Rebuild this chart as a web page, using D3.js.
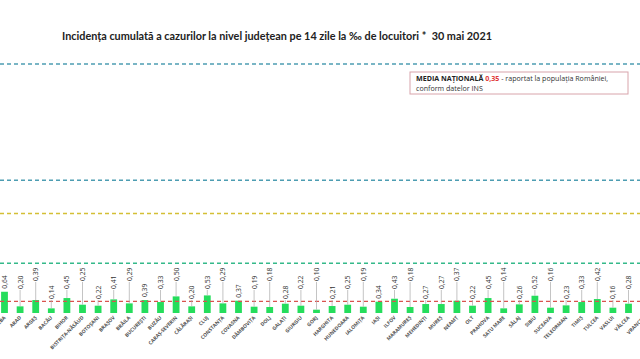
<!DOCTYPE html>
<html><head><meta charset="utf-8">
<script src="https://cdn.jsdelivr.net/npm/d3@7"></script>
<style>html,body{margin:0;padding:0;background:#fff;overflow:hidden}</style>
</head><body>
<svg id="c" width="640" height="359"></svg>
<script>
const counties = ["ALBA","ARAD","ARGEȘ","BACĂU","BIHOR","BISTRIȚA-NĂSĂUD","BOTOȘANI","BRAȘOV","BRĂILA","BUCUREȘTI","BUZĂU","CARAȘ-SEVERIN","CĂLĂRAȘI","CLUJ","CONSTANȚA","COVASNA","DÂMBOVIȚA","DOLJ","GALAȚI","GIURGIU","GORJ","HARGHITA","HUNEDOARA","IALOMIȚA","IAȘI","ILFOV","MARAMUREȘ","MEHEDINȚI","MUREȘ","NEAMȚ","OLT","PRAHOVA","SATU MARE","SĂLAJ","SIBIU","SUCEAVA","TELEORMAN","TIMIȘ","TULCEA","VASLUI","VÂLCEA","VRANCEA"];
const values = [0.64,0.20,0.39,0.14,0.45,0.25,0.22,0.41,0.29,0.39,0.33,0.50,0.20,0.53,0.29,0.37,0.19,0.18,0.28,0.22,0.10,0.21,0.25,0.19,0.34,0.43,0.18,0.27,0.27,0.37,0.22,0.45,0.14,0.26,0.52,0.16,0.23,0.33,0.42,0.16,0.28,0.31];
const nationalMean = 0.35;
const thresholds = [1.5, 3, 4, 7.5];
const thresholdColors = ["#35b98a","#d4bf35","#4d9db2","#4d9db2"];
const titleText = "Incidența cumulată a cazurilor la nivel județean pe 14 zile la ‰ de locuitori *  30 mai 2021";

const svg = d3.select("#c");
const x = d3.scalePoint().domain(counties).range([-3.3, 651.9]).padding(0.5);
const y = d3.scaleLinear().domain([0, 7.5]).range([313, 64]);
const fmt = v => d3.format(".2f")(v).replace(".", ",");

// title
svg.append("text").attr("x", 62).attr("y", 40)
  .attr("font-family", "Lato, 'Open Sans', sans-serif").attr("font-weight", "bold")
  .attr("font-size", 10.6).attr("fill", "#222").attr("xml:space", "preserve")
  .attr("textLength", 430).attr("lengthAdjust", "spacingAndGlyphs").text(titleText);

// threshold lines
thresholds.forEach((t, i) => {
  svg.append("line").attr("x1", 0).attr("x2", 640).attr("y1", y(t)).attr("y2", y(t))
    .attr("stroke", thresholdColors[i]).attr("stroke-width", 1.5).attr("stroke-dasharray", "4,3");
});

// bars
const bw = 6.8;
svg.selectAll("rect.bar").data(values).enter().append("rect").attr("class","bar")
  .attr("x", (d,i) => x(counties[i]) - bw/2).attr("width", bw)
  .attr("y", d => y(d)).attr("height", d => y(0) - y(d))
  .attr("fill", "#25dd5c");

// national mean line
svg.append("line").attr("x1", 0).attr("x2", 640).attr("y1", y(nationalMean)).attr("y2", y(nationalMean))
  .attr("stroke", "#d9534f").attr("stroke-width", 1.4).attr("stroke-dasharray", "4,3");

// value labels with leader lines
const lifts = [0, 10, 18];
values.forEach((v, i) => {
  const cx = x(counties[i]);
  const top = y(v);
  const bottom = Math.min(top - 3, 299 - lifts[i % 3]);
  if (top - bottom > 4) {
    svg.append("line").attr("x1", cx).attr("x2", cx).attr("y1", bottom + 1).attr("y2", top)
      .attr("stroke", "#aaa").attr("stroke-width", 0.7);
  }
  svg.append("text").attr("transform", `translate(${cx + 2.4},${bottom}) rotate(-90)`)
    .attr("font-family", "'Open Sans', sans-serif").attr("font-size", 6.8)
    .attr("fill", "#333").text(fmt(v));
});

// x labels
counties.forEach((c, i) => {
  const cx = x(c);
  svg.append("text").attr("transform", `translate(${cx + 1.5},${318}) rotate(-45)`)
    .attr("text-anchor", "end").attr("font-family", "'Open Sans', sans-serif")
    .attr("font-size", 5).attr("font-weight", "bold").attr("fill", "#555").text(c);
});

// legend box
const lg = svg.append("g");
lg.append("rect").attr("x", 410).attr("y", 72).attr("width", 218).attr("height", 22)
  .attr("fill", "#fff").attr("stroke", "#d8a4ab").attr("stroke-width", 1);
const t1 = lg.append("text").attr("x", 416).attr("y", 81)
  .attr("font-family", "'Open Sans', sans-serif").attr("font-size", 7.1).attr("fill", "#333");
t1.append("tspan").attr("font-weight", "bold").attr("fill", "#222").text("MEDIA NAȚIONALĂ ");
t1.append("tspan").attr("font-weight", "bold").attr("fill", "#e03a3a").text(" " + fmt(nationalMean));
t1.append("tspan").text(" - raportat la populația României,");
lg.append("text").attr("x", 416).attr("y", 90.5)
  .attr("font-family", "'Open Sans', sans-serif").attr("font-size", 7.1).attr("fill", "#333")
  .text("conform datelor INS");
</script>
</body></html>
